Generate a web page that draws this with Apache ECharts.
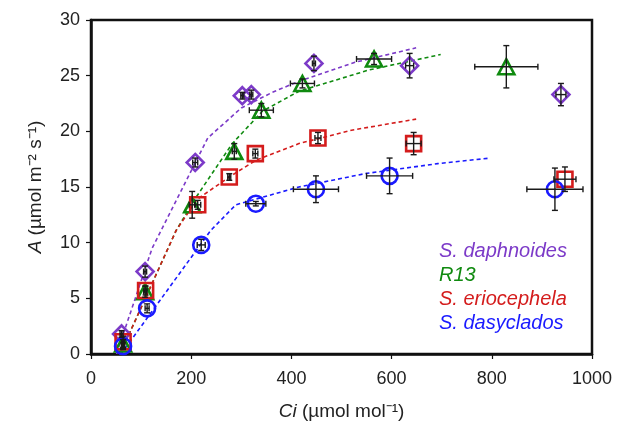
<!DOCTYPE html>
<html>
<head>
<meta charset="utf-8">
<script src="https://cdn.jsdelivr.net/npm/echarts@6/dist/echarts.min.js"></script>
<style>
  html, body { margin: 0; padding: 0; background: #fff; }
  #main { width: 617px; height: 422px; }
</style>
</head>
<body>
<div id="main"></div>
<script>
// measured points: Ci, A and their errors
var daphCi  = [61, 108, 208, 302, 320, 445, 636, 938];
var daphA   = [1.8, 7.4, 17.2, 23.2, 23.3, 26.1, 25.9, 23.3];
var daphCiE = [3, 3, 5, 3, 3, 3, 8, 10];
var daphAE  = [0.3, 0.5, 0.4, 0.3, 0.4, 0.65, 1.1, 1.0];

var r13Ci  = [64, 108, 202, 286, 340, 422, 565, 829];
var r13A   = [0.9, 5.6, 13.4, 18.2, 21.9, 24.3, 26.5, 25.8];
var r13CiE = [3, 3, 6, 4, 24, 24, 35, 63];
var r13AE  = [0.4, 0.5, 1.2, 0.7, 0.6, 0.4, 0.5, 1.9];

var erioCi  = [64, 109, 213, 276, 328, 453, 644, 946];
var erioA   = [1.1, 5.7, 13.4, 15.9, 18.0, 19.4, 18.9, 15.7];
var erioCiE = [3, 3, 6, 3, 5, 6, 15, 22];
var erioAE  = [0.5, 0.4, 0.4, 0.3, 0.4, 0.5, 1.0, 1.1];

var dasyCi  = [64, 112, 220, 329, 449, 596, 926];
var dasyA   = [0.7, 4.1, 9.8, 13.5, 14.8, 16.0, 14.8];
var dasyCiE = [3, 4, 8, 20, 45, 46, 56];
var dasyAE  = [0.3, 0.4, 0.5, 0.2, 1.2, 1.6, 1.9];

// fitted curves
var daphFitCi = [51, 122, 233, 300, 362, 415, 527, 649];
var daphFitA  = [0, 9.5, 19.4, 22.1, 23.5, 24.5, 26.2, 27.5];
var r13FitCi  = [58, 170, 210, 282, 342, 415, 554, 698];
var r13FitA   = [0, 11.1, 14.1, 18.9, 21.8, 23.6, 25.5, 26.9];
var erioFitCi = [58, 170, 212, 276, 329, 415, 520, 649];
var erioFitA  = [0, 11.1, 13.9, 15.9, 17.4, 18.9, 20.1, 21.1];
var dasyFitCi = [60, 239, 289, 415, 547, 692, 797];
var dasyFitA  = [0, 11.1, 13.4, 15.0, 16.2, 17.1, 17.6];

var names  = ['S. daphnoides', 'R13', 'S. eriocephela', 'S. dasyclados'];
var colors = ['#7c3ac8', '#0f8a0f', '#d41c1c', '#1a1aff'];

function zip() {
    var cols = Array.prototype.slice.call(arguments);
    return cols[0].map(function (v, i) {
        return cols.map(function (c) { return c[i]; });
    });
}

function errorBars(params, api) {
    var x = api.value(0), y = api.value(1), xe = api.value(2), ye = api.value(3);
    var l = api.coord([x - xe, y]), r = api.coord([x + xe, y]);
    var t = api.coord([x, y + ye]), b = api.coord([x, y - ye]);
    var c = 3;
    var st = { stroke: '#1a1a1a', lineWidth: 1.4 };
    return {
        type: 'group',
        children: [
            { type: 'line', shape: { x1: l[0], y1: l[1], x2: r[0], y2: r[1] }, style: st },
            { type: 'line', shape: { x1: l[0], y1: l[1] - c, x2: l[0], y2: l[1] + c }, style: st },
            { type: 'line', shape: { x1: r[0], y1: r[1] - c, x2: r[0], y2: r[1] + c }, style: st },
            { type: 'line', shape: { x1: t[0], y1: t[1], x2: b[0], y2: b[1] }, style: st },
            { type: 'line', shape: { x1: t[0] - c, y1: t[1], x2: t[0] + c, y2: t[1] }, style: st },
            { type: 'line', shape: { x1: b[0] - c, y1: b[1], x2: b[0] + c, y2: b[1] }, style: st }
        ]
    };
}

var pts = [
    zip(daphCi, daphA, daphCiE, daphAE),
    zip(r13Ci, r13A, r13CiE, r13AE),
    zip(erioCi, erioA, erioCiE, erioAE),
    zip(dasyCi, dasyA, dasyCiE, dasyAE)
];
var fits = [
    zip(daphFitCi, daphFitA),
    zip(r13FitCi, r13FitA),
    zip(erioFitCi, erioFitA),
    zip(dasyFitCi, dasyFitA)
];
var symbols = ['diamond', 'triangle', 'rect', 'circle'];
var sizes = [[17, 17], [16, 15], [15, 15], [16, 16]];

var series = [];
fits.forEach(function (d, i) {
    series.push({
        type: 'line', data: d, symbol: 'none', silent: true, z: 2,
        lineStyle: { color: colors[i], width: 1.6, type: [4, 3] }
    });
});
pts.forEach(function (d, i) {
    series.push({
        type: 'scatter', data: d, symbol: symbols[i], symbolSize: sizes[i], z: 3,
        itemStyle: { color: 'rgba(255,255,255,0)', borderColor: colors[i], borderWidth: 2.6, opacity: 1 }
    });
    series.push({
        type: 'custom', data: d, renderItem: errorBars, z: 4, silent: true,
        encode: { x: 0, y: 1 }
    });
});

var font = '"Liberation Sans", Arial, sans-serif';
var chart = echarts.init(document.getElementById('main'));
chart.setOption({
    animation: false,
    grid: { left: 91, right: 25, top: 20, bottom: 68, show: true, borderColor: '#111', borderWidth: 2.5,
        containLabel: false, outerBoundsMode: 'none' },
    xAxis: {
        type: 'value', min: 0, max: 1000, interval: 200,
        splitLine: { show: false },
        axisLine: { lineStyle: { color: '#111', width: 2.5 } },
        axisTick: { inside: false, length: 5, lineStyle: { color: '#111', width: 1.2 } },
        axisLabel: { color: '#222', fontSize: 18, fontFamily: font, margin: 16,
            formatter: function (v) { return String(v); } },
        name: '{i|Ci} (\u00b5mol mol\u207b\u00b9)',
        nameLocation: 'middle', nameGap: 48,
        nameTextStyle: {
            color: '#222', fontSize: 19, fontFamily: font,
            rich: { i: { fontStyle: 'italic', fontSize: 19, fontFamily: font, color: '#222' } }
        }
    },
    yAxis: {
        type: 'value', min: 0, max: 30, interval: 5,
        splitLine: { show: false },
        axisLine: { lineStyle: { color: '#111', width: 2.5 } },
        axisTick: { inside: false, length: 5, lineStyle: { color: '#111', width: 1.2 } },
        axisLabel: { color: '#222', fontSize: 18, fontFamily: font, margin: 11 },
        name: '{i|A} (\u00b5mol m\u207b\u00b2 s\u207b\u00b9)',
        nameLocation: 'middle', nameGap: 46,
        nameTextStyle: {
            color: '#222', fontSize: 19, fontFamily: font,
            rich: { i: { fontStyle: 'italic', fontSize: 19, fontFamily: font, color: '#222' } }
        }
    },
    graphic: names.map(function (n, i) {
        return {
            type: 'text', left: 439, top: 241 + i * 24, z: 10,
            style: { text: n, fill: colors[i], font: 'italic 20px ' + font }
        };
    }),
    series: series
});
</script>
</body>
</html>
